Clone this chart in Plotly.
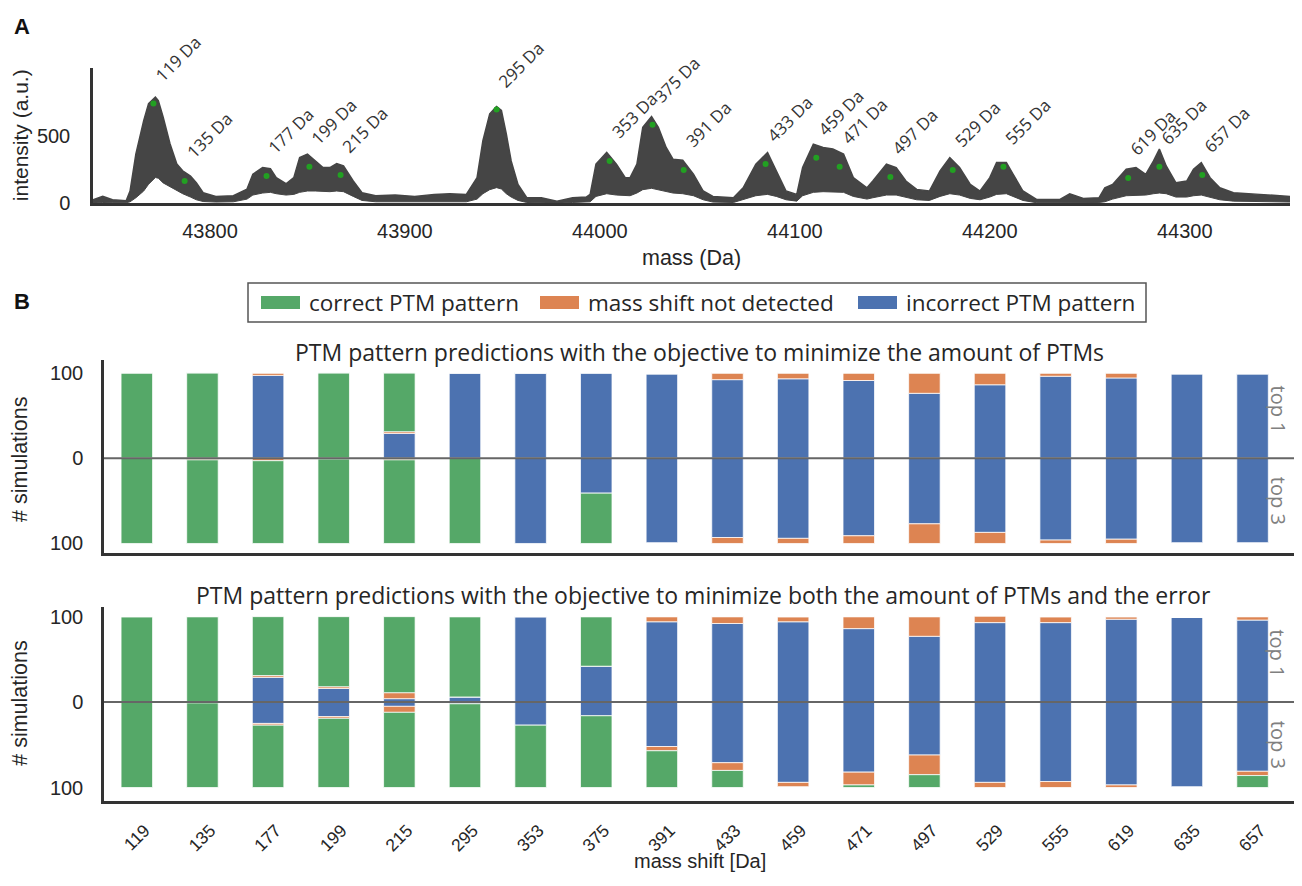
import plotly.graph_objects as go

# page body adds an 8 px margin; the captured page is also squeezed vertically a little
OFF = 8
FW, FH = 1302 - 2 * OFF, 886 - 2 * OFF
VSCALE, VSHIFT = 0.987, 0.8

# ---------------- data ----------------
categories = ['119', '135', '177', '199', '215', '295', '353', '375', '391',
              '433', '459', '471', '497', '529', '555', '619', '635', '657']

# panel B1: objective = minimize the amount of PTMs
b1_top1_incorrect = [0, 0, 97, 0, 29, 100, 100, 100, 99, 92, 93, 91, 76, 86, 96, 94, 99, 99]
b1_top1_notdet    = [0, 0, 3, 0, 2, 0, 0, 0, 0, 8, 7, 9, 24, 14, 4, 6, 0, 0]
b1_top1_correct   = [100, 100, 0, 100, 69, 0, 0, 0, 0, 0, 0, 0, 0, 0, 0, 0, 0, 0]
b1_top3_incorrect = [0, 0, 0, 0, 0, 0, 100, 41, 99, 93, 94, 91, 77, 87, 96, 95, 99, 99]
b1_top3_notdet    = [0, 2, 3, 1, 2, 0, 0, 0, 0, 7, 6, 9, 23, 13, 4, 5, 0, 0]
b1_top3_correct   = [100, 98, 97, 99, 98, 100, 0, 59, 0, 0, 0, 0, 0, 0, 0, 0, 0, 0]

# panel B2: objective = minimize both the amount of PTMs and the error
b2_top1_incorrect = [0, 0, 29, 16, 4, 6, 100, 42, 94, 92, 94, 86, 77, 93, 93, 97, 99, 96]
b2_top1_notdet    = [0, 0, 2, 2, 7, 0, 0, 0, 6, 8, 6, 14, 23, 8, 7, 3, 0, 4]
b2_top1_correct   = [100, 100, 69, 82, 89, 94, 0, 58, 0, 0, 0, 0, 0, 0, 0, 0, 0, 0]
b2_top3_incorrect = [0, 0, 25, 17, 5, 2, 27, 16, 52, 71, 94, 82, 62, 94, 93, 97, 99, 81]
b2_top3_notdet    = [0, 1, 2, 2, 7, 0, 0, 0, 5, 9, 5, 15, 23, 6, 7, 3, 0, 5]
b2_top3_correct   = [100, 99, 73, 81, 88, 98, 73, 84, 43, 20, 0, 3, 15, 0, 0, 0, 0, 14]

# panel A: deconvoluted spectrum (envelope of the dense trace)
spec_mass = [43740, 43745, 43750, 43757, 43759, 43762, 43766, 43768.5, 43772, 43773.5,
             43776, 43779.5, 43783, 43786, 43790, 43793, 43796.5, 43803, 43812, 43819,
             43822, 43827, 43831, 43834, 43839, 43843, 43846, 43850, 43854, 43858,
             43861.5, 43865, 43868.5, 43873.5, 43878, 43885, 43895, 43905, 43915, 43923,
             43931.5, 43937, 43940, 43943.5, 43947, 43949.5, 43952, 43954.5, 43958, 43962.5,
             43970, 43978, 43986, 43993, 43995, 43998, 44003.5, 44008.5, 44013, 44015.5,
             44019, 44022, 44026.5, 44030, 44034, 44037.5, 44042.5, 44048, 44053, 44058,
             44068.5, 44073.5, 44080, 44086, 44090.5, 44095.5, 44101, 44104, 44109.5, 44114.5,
             44119.5, 44125, 44130, 44137, 44140, 44147, 44152, 44157, 44162.5, 44169,
             44174.5, 44179.5, 44184.5, 44190, 44195, 44200, 44203.5, 44208.5, 44212, 44217,
             44224, 44236, 44241, 44248, 44256, 44259, 44263, 44270, 44275, 44280,
             44284, 44287, 44290.5, 44295.5, 44301, 44304.5, 44308.5, 44313, 44318, 44325,
             44338.5, 44354]
spec_upper = [25, 50, 25, 18, 90, 365, 612, 737, 786, 761,
              637, 440, 290, 240, 201, 151, 77, 50, 55, 104,
              214, 264, 256, 189, 144, 189, 338, 364, 313, 264,
              264, 294, 276, 164, 77, 55, 60, 50, 65, 70,
              65, 189, 463, 662, 716, 687, 513, 313, 139, 40,
              40, 15, 40, 45, 65, 289, 376, 289, 189, 189,
              289, 562, 642, 562, 413, 326, 318, 214, 90, 50,
              40, 114, 289, 376, 239, 90, 65, 264, 438, 413,
              401, 364, 189, 114, 164, 289, 264, 164, 102, 90,
              239, 338, 264, 139, 90, 189, 301, 301, 214, 90,
              27, 27, 70, 35, 40, 114, 139, 251, 264, 214,
              313, 401, 276, 151, 164, 251, 301, 189, 114, 77,
              65, 50]
spec_lower = [0, 5, 3, 3, 10, 40, 90, 140, 190, 185,
              150, 120, 90, 70, 45, 25, 12, 8, 10, 30,
              60, 75, 80, 70, 60, 65, 80, 90, 90, 85,
              85, 90, 85, 50, 20, 10, 10, 8, 10, 10,
              10, 30, 70, 100, 115, 105, 70, 45, 20, 5,
              3, 0, 5, 5, 10, 50, 70, 60, 55, 55,
              75, 100, 110, 100, 85, 75, 70, 55, 25, 8,
              5, 25, 55, 65, 50, 25, 15, 55, 80, 85,
              85, 80, 50, 30, 40, 60, 60, 45, 25, 20,
              50, 70, 60, 35, 25, 45, 65, 70, 50, 20,
              3, 3, 5, 3, 5, 10, 30, 55, 60, 60,
              70, 75, 70, 45, 45, 55, 60, 45, 25, 15,
              10, 8]

unmodified_mass = 43652
peak_shift = [119, 135, 177, 199, 215, 295, 353, 375, 391, 433, 459, 471, 497, 529, 555, 619, 635, 657]
peak_intensity = [739, 164, 201, 269, 209, 694, 313, 582, 246, 291, 336, 269, 194, 246, 269, 187, 269, 209]

mass_ticks = [43800, 43900, 44000, 44100, 44200, 44300]

# ---------------- style ----------------
GREEN = '#55A868'
ORANGE = '#DD8452'
BLUE = '#4C72B0'
TXT = '#262626'
NUM_FONT = 'Arial, Liberation Sans, sans-serif'
SANS = 'Open Sans, Lato, sans-serif'


def px(x):
    return min(1.0, max(0.0, (x - OFF) / FW))


def py(y):
    page_y = (y - VSHIFT) / VSCALE
    return min(1.0, max(0.0, 1 - (page_y - OFF) / FH))


fig = go.Figure()

# ---- panel A ----
fig.add_trace(go.Scatter(x=spec_mass, y=spec_lower, mode='lines',
                         line=dict(color='#454545', width=1), hoverinfo='skip',
                         xaxis='x', yaxis='y', showlegend=False))
fig.add_trace(go.Scatter(x=spec_mass, y=spec_upper, mode='lines', fill='tonexty',
                         fillcolor='#454545', line=dict(color='#454545', width=1.5),
                         xaxis='x', yaxis='y', showlegend=False))
peak_mass = [unmodified_mass + s for s in peak_shift]
fig.add_trace(go.Scatter(x=peak_mass, y=peak_intensity, mode='markers',
                         marker=dict(color='#22A022', size=6),
                         xaxis='x', yaxis='y', showlegend=False))

annotations = []
for s, m, v in zip(peak_shift, peak_mass, peak_intensity):
    annotations.append(dict(x=m, y=v, xref='x', yref='y', text=f'{s} Da', textangle=-45,
                            showarrow=False, xanchor='left', yanchor='bottom',
                            xshift=-6, yshift=15,
                            font=dict(family=SANS, size=17, color='#333333')))


# ---- panel B ----
def add_panel(ax, top1, top3):
    xa, ya = 'x' + ax, 'y' + ax
    for vals, col in zip(top1, [BLUE, ORANGE, GREEN]):
        fig.add_trace(go.Bar(x=categories, y=vals, marker=dict(color=col,
                             line=dict(color='rgba(255,255,255,0.75)', width=1)),
                             width=0.48, xaxis=xa, yaxis=ya, showlegend=False))
    for vals, col in zip(top3, [BLUE, ORANGE, GREEN]):
        fig.add_trace(go.Bar(x=categories, y=[-v for v in vals], marker=dict(color=col,
                             line=dict(color='rgba(255,255,255,0.75)', width=1)),
                             width=0.48, xaxis=xa, yaxis=ya, showlegend=False))


add_panel('2', [b1_top1_incorrect, b1_top1_notdet, b1_top1_correct],
          [b1_top3_incorrect, b1_top3_notdet, b1_top3_correct])
add_panel('3', [b2_top1_incorrect, b2_top1_notdet, b2_top1_correct],
          [b2_top3_incorrect, b2_top3_notdet, b2_top3_correct])

shapes = []
for ax in ['2', '3']:
    shapes.append(dict(type='line', xref=f'x{ax} domain', yref=f'y{ax}', x0=0, x1=1, y0=0, y1=0,
                       line=dict(color='#666666', width=2), layer='above'))

# legend (drawn by hand for wide swatches)
shapes.append(dict(type='rect', xref='paper', yref='paper', x0=px(248), x1=px(1146),
                   y0=py(322), y1=py(283), line=dict(color='#555555', width=1.5),
                   fillcolor='rgba(0,0,0,0)'))
legend_items = [('correct PTM pattern', GREEN, 261), ('mass shift not detected', ORANGE, 540),
                ('incorrect PTM pattern', BLUE, 858)]
for label, col, x0 in legend_items:
    shapes.append(dict(type='rect', xref='paper', yref='paper', x0=px(x0), x1=px(x0 + 39),
                       y0=py(309), y1=py(296), line=dict(width=0), fillcolor=col))
    annotations.append(dict(x=px(x0 + 46), y=py(302.5), xref='paper', yref='paper', text=label,
                            showarrow=False, xanchor='left', yanchor='middle',
                            font=dict(family=SANS, size=22.5, color=TXT)))


def paper_text(x, y, text, size, family=NUM_FONT, angle=0, color=TXT):
    return dict(x=px(x), y=py(y), xref='paper', yref='paper', showarrow=False, text=text,
                textangle=angle, xanchor='center', yanchor='middle',
                font=dict(family=family, size=size, color=color))


annotations += [
    paper_text(700, 352, 'PTM pattern predictions with the objective to minimize the amount of PTMs',
               23, SANS),
    paper_text(703, 595, 'PTM pattern predictions with the objective to minimize both the amount '
               'of PTMs and the error', 23, SANS),
    paper_text(22, 26, '<b>A</b>', 22, color='#111'),
    paper_text(22, 301, '<b>B</b>', 22, color='#111'),
    paper_text(20, 135, 'intensity (a.u.)', 21, angle=-90),
    paper_text(691, 258, 'mass (Da)', 21.5),
    paper_text(20, 460, '# simulations', 21.5, angle=-90),
    paper_text(20, 704, '# simulations', 21.5, angle=-90),
    paper_text(700, 861, 'mass shift [Da]', 20),
]
for ax in ['2', '3']:
    annotations.append(dict(x=px(1278), y=57, xref='paper', yref='y' + ax, showarrow=False,
                            text='top 1', textangle=90, xanchor='center', yanchor='middle',
                            font=dict(family=SANS, size=20, color='#808080')))
    annotations.append(dict(x=px(1278), y=-50, xref='paper', yref='y' + ax, showarrow=False,
                            text='top 3', textangle=90, xanchor='center', yanchor='middle',
                            font=dict(family=SANS, size=20, color='#808080')))

axis_common = dict(showgrid=False, zeroline=False, showline=True, linecolor='#333333',
                   linewidth=2.5, ticks='', tickfont=dict(family=NUM_FONT, size=20, color=TXT))

# bar panels: first bar centre at 136.5 px, 65.65 px per category, axis ends at 1294 px
bar_range = [-0.5, (1294 - 136.5) / 65.65]

fig.update_layout(
    width=FW, height=FH, margin=dict(l=0, r=0, t=0, b=0),
    paper_bgcolor='white', plot_bgcolor='white',
    barmode='relative', showlegend=False,
    xaxis=dict(domain=[px(93), px(1290)], range=[43740, 44354], tickvals=mass_ticks,
               tickformat='d', anchor='y', ticklabelstandoff=8, **axis_common),
    yaxis=dict(domain=[py(203), py(68)], range=[0, 1000], tickvals=[0, 500],
               anchor='x', ticklabelstandoff=16, **axis_common),
    xaxis2=dict(domain=[px(104), px(1294)], range=bar_range, type='category',
                showticklabels=False, anchor='y2', **axis_common),
    yaxis2=dict(domain=[py(553), py(360)], range=[-111, 115], tickvals=[-100, 0, 100],
                ticktext=['100', '0', '100'], anchor='x2', ticklabelstandoff=14, **axis_common),
    xaxis3=dict(domain=[px(104), px(1294)], range=bar_range, type='category',
                tickangle=-45, anchor='y3', ticklabelstandoff=10, ticklabelshift=8,
                **{k: v for k, v in axis_common.items() if k != 'tickfont'},
                tickfont=dict(family=NUM_FONT, size=17.5, color=TXT)),
    yaxis3=dict(domain=[py(801), py(607)], range=[-115.4, 111.5], tickvals=[-100, 0, 100],
                ticktext=['100', '0', '100'], anchor='x3', ticklabelstandoff=14, **axis_common),
    shapes=shapes, annotations=annotations,
)

fig.write_html('out.html')
